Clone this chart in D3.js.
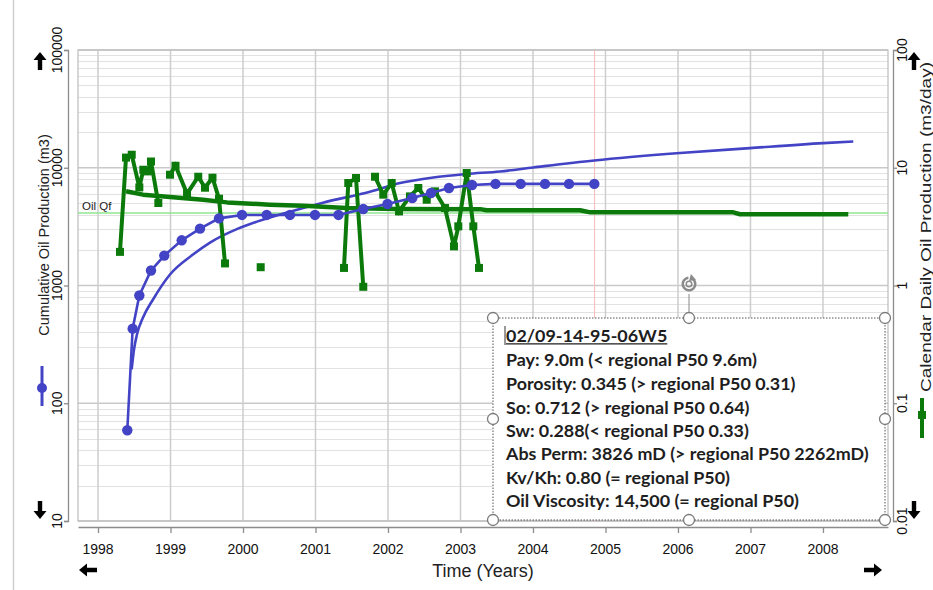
<!DOCTYPE html>
<html><head><meta charset="utf-8">
<script src="https://cdn.jsdelivr.net/npm/d3@7"></script>
<style>body{margin:0;background:#fff;} svg{display:block;font-family:"Liberation Sans",Arial,sans-serif;}</style>
</head><body><svg id="c" width="933" height="590"></svg>
<script>
// ---------- data ----------
const yearTicks = [1998,1999,2000,2001,2002,2003,2004,2005,2006,2007,2008];
const cumTicks = [10,100,1000,10000,100000];
const cumTickLabels = ["10","100","1000","10000","100000"];
const rateTicks = [0.01,0.1,1,10,100];
const rateTickLabels = ["0.01","0.1","1","10","100"];

// Actual cumulative oil production (m3)
const cumDates  = [1998.404,1998.478,1998.570,1998.731,1998.914,1999.154,1999.407,1999.669,1999.986,2000.327,2000.648,2000.993,2001.317,2001.659,2001.993,2002.335,2002.593,2002.841,2003.159,2003.483,2003.830,2004.166,2004.497,2004.846];
const cumValues = [59,430,823,1340,1795,2420,3040,3718,3974,3974,3974,3974,3974,4467,4923,5538,6105,6730,7135,7290,7290,7290,7290,7290];

// Forecast cumulative (m3)
const cumFcstDates  = [1998.464,1998.497,1998.538,1998.621,1998.759,1998.993,1999.310,1999.545,1999.931,2000.193,2000.648,2001.103,2001.752,2002.166,2002.625,2003.086,2003.545,2004.004,2004.846,2006.028,2006.993,2008.004,2008.418];
const cumFcstValues = [194,287,385,535,761,1240,1830,2313,3040,3486,4240,5050,6260,7415,8275,8855,9305,10060,11530,13330,14690,16190,16710];

// Actual calendar daily oil rate (m3/day); null = gap
const rateDates  = [1998.303,1998.386,1998.465,1998.570,1998.625,1998.686,1998.731,1998.832,null,
                    1998.993,1999.069,1999.228,1999.383,1999.476,1999.579,1999.669,1999.752,null,
                    2000.244,null,
                    2001.393,2001.452,2001.559,2001.659,null,
                    2001.821,2001.935,2002.051,2002.152,2002.303,2002.418,2002.534,2002.648,2002.786,2002.910,2002.970,2003.086,2003.177,2003.255];
const rateValues = [1.93,12.2,12.9,6.81,9.62,9.31,11.3,5.02,null,
                    8.73,10.4,6.02,8.39,6.77,8.23,5.46,1.54,null,
                    1.43,null,
                    1.41,7.42,8.18,0.975,null,
                    8.39,5.91,7.42,4.26,5.71,6.73,5.35,6.30,4.55,2.15,3.18,9.02,3.18,1.41];

// Forecast daily rate (m3/day)
const rateFcstDates  = [1998.386,1998.621,1998.993,1999.448,1999.779,2000.372,2000.828,2001.434,2002.124,2003.270,2003.360,2004.650,2004.790,2006.763,2006.855,2008.349];
const rateFcstValues = [6.32,5.91,5.65,5.35,5.08,4.86,4.76,4.55,4.47,4.45,4.35,4.35,4.18,4.18,4.03,4.03];

const oilQf = 4.13;
const oilQfLabel = "Oil Qf";
const cursorDate = 2004.85;

const leftTitle = "Cumulative Oil Production (m3)";
const rightTitle = "Calendar Daily Oil Production (m3/day)";
const xTitle = "Time (Years)";
const noteLines = [
  "02/09-14-95-06W5",
  "Pay: 9.0m (< regional P50 9.6m)",
  "Porosity: 0.345 (> regional P50 0.31)",
  "So: 0.712 (> regional P50 0.64)",
  "Sw: 0.288(< regional P50 0.33)",
  "Abs Perm: 3826 mD (> regional P50 2262mD)",
  "Kv/Kh: 0.80 (= regional P50)",
  "Oil Viscosity: 14,500 (= regional P50)"
];

// ---------- layout ----------
const svg = d3.select("#c");
const P = {l:78, t:50, r:888, b:521};
const x = d3.scaleLinear().domain([1997.724, 2008.897]).range([P.l, P.r]);
const yL = d3.scaleLog().domain([10, 100000]).range([P.b, P.t]);
const yR = d3.scaleLog().domain([0.01, 100]).range([P.b, P.t]);

const BLUE = "#4343c6", GREEN = "#0b7a0b", AX = "#8c8c8c";

// outer frame line
svg.append("line").attr("x1",13.5).attr("x2",13.5).attr("y1",0).attr("y2",590).attr("stroke","#cfcfcf").attr("stroke-width",1.5);

// grid
const g = svg.append("g");
const minor = [];
[10,100,1000,10000].forEach(d=>{ for(let k=2;k<=9;k++) minor.push(d*k); });
g.selectAll(".mn").data(minor).join("line")
  .attr("x1",P.l).attr("x2",P.r).attr("y1",d=>Math.round(yL(d))+0.5).attr("y2",d=>Math.round(yL(d))+0.5)
  .attr("stroke","#e2e2e2").attr("stroke-width",1.2);
g.selectAll(".mj").data(cumTicks).join("line")
  .attr("x1",P.l).attr("x2",P.r).attr("y1",d=>yL(d)).attr("y2",d=>yL(d))
  .attr("stroke","#c9c9c9").attr("stroke-width",1.5);
g.selectAll(".vx").data(yearTicks).join("line")
  .attr("x1",d=>x(d)).attr("x2",d=>x(d)).attr("y1",P.t).attr("y2",P.b)
  .attr("stroke","#cdcdcd").attr("stroke-width",1.5);
g.append("rect").attr("x",P.l).attr("y",P.t).attr("width",P.r-P.l).attr("height",P.b-P.t)
  .attr("fill","none").attr("stroke","#bdbdbd").attr("stroke-width",1.2);

// cursor line
g.append("line").attr("x1",x(cursorDate)).attr("x2",x(cursorDate)).attr("y1",P.t).attr("y2",P.b)
  .attr("stroke","#f6b8b8").attr("stroke-width",1);

// Oil Qf
g.append("line").attr("x1",P.l).attr("x2",P.r).attr("y1",yR(oilQf)).attr("y2",yR(oilQf))
  .attr("stroke","#8fe88f").attr("stroke-width",1.5);
g.append("text").attr("x",P.l+4).attr("y",yR(oilQf)-3).attr("font-size",11.5).attr("fill","#222").text(oilQfLabel);

// axes
const axL = svg.append("g").attr("transform",`translate(68,0)`)
  .call(d3.axisLeft(yL).tickValues(cumTicks).tickSize(4).tickSizeOuter(4).tickFormat(""));
const axR = svg.append("g").attr("transform",`translate(893,0)`)
  .call(d3.axisRight(yR).tickValues(rateTicks).tickSize(4).tickSizeOuter(4).tickFormat(""));
const axB = svg.append("g").attr("transform",`translate(0,527)`)
  .call(d3.axisBottom(x).tickValues(yearTicks).tickSize(6).tickSizeOuter(0).tickFormat(""));
[axL,axR,axB].forEach(a=>{ a.selectAll("path,line").attr("stroke",AX).attr("stroke-width",1.3); });

svg.selectAll(".lt").data(cumTicks).join("text")
  .attr("transform",d=>`translate(57,${yL(d)}) rotate(-90)`)
  .attr("text-anchor","middle").attr("dominant-baseline","central")
  .attr("font-size",14).attr("fill","#111").text((d,i)=>cumTickLabels[i]);
svg.selectAll(".rt").data(rateTicks).join("text")
  .attr("transform",d=>`translate(902,${yR(d)}) rotate(-90)`)
  .attr("text-anchor","middle").attr("dominant-baseline","central")
  .attr("font-size",14).attr("fill","#111").text((d,i)=>rateTickLabels[i]);
svg.selectAll(".bt").data(yearTicks).join("text")
  .attr("x",d=>x(d)).attr("y",549).attr("text-anchor","middle").attr("dominant-baseline","central")
  .attr("font-size",14).attr("fill","#111").text(d=>d);

// titles
svg.append("text").attr("transform","translate(44,235) rotate(-90)").attr("text-anchor","middle")
  .attr("dominant-baseline","central").attr("font-size",14.5).attr("fill","#222").text(leftTitle);
svg.append("text").attr("transform","translate(925,227) rotate(-90)").attr("text-anchor","middle")
  .attr("dominant-baseline","central").attr("font-size",15.5).attr("fill","#222")
  .attr("textLength",330).attr("lengthAdjust","spacingAndGlyphs").text(rightTitle);
svg.append("text").attr("x",483).attr("y",571).attr("text-anchor","middle").attr("dominant-baseline","central")
  .attr("font-size",18).attr("fill","#222").text(xTitle);

// legend symbols
svg.append("line").attr("x1",42).attr("x2",42).attr("y1",366).attr("y2",406).attr("stroke",BLUE).attr("stroke-width",3);
svg.append("circle").attr("cx",42).attr("cy",388).attr("r",5).attr("fill",BLUE);
svg.append("line").attr("x1",922).attr("x2",922).attr("y1",398).attr("y2",438).attr("stroke",GREEN).attr("stroke-width",4);
svg.append("rect").attr("x",918).attr("y",411).attr("width",8).attr("height",8).attr("fill",GREEN);

// arrows
function arrow(cx,cy,rot){
  svg.append("path").attr("transform",`translate(${cx},${cy}) rotate(${rot})`)
    .attr("d","M0,-9 L6.5,-1 L2.2,-1 L2.2,9 L-2.2,9 L-2.2,-1 L-6.5,-1 Z").attr("fill","#000");
}
arrow(40,61,0); arrow(40,510,180); arrow(914,61,0); arrow(914,510,180);
arrow(88,570,-90); arrow(873,570,90);

// series
const plotG = svg.append("g");
const cumFc = cumFcstDates.map((d,i)=>({d,v:cumFcstValues[i]}));
plotG.append("path").datum(cumFc).attr("fill","none").attr("stroke",BLUE).attr("stroke-width",2.6)
  .attr("d",d3.line().x(p=>x(p.d)).y(p=>yL(p.v)).curve(d3.curveMonotoneX));
const rateFc = rateFcstDates.map((d,i)=>({d,v:rateFcstValues[i]}));
plotG.append("path").datum(rateFc).attr("fill","none").attr("stroke",GREEN).attr("stroke-width",4.5)
  .attr("stroke-linejoin","round")
  .attr("d",d3.line().x(p=>x(p.d)).y(p=>yR(p.v)));

const rate = rateDates.map((d,i)=>({d,v:rateValues[i]}));
plotG.append("path").datum(rate).attr("fill","none").attr("stroke",GREEN).attr("stroke-width",4)
  .attr("d",d3.line().defined(p=>p.v!=null).x(p=>x(p.d)).y(p=>yR(p.v)));
plotG.selectAll(".sq").data(rate.filter(p=>p.v!=null)).join("rect")
  .attr("x",p=>x(p.d)-4).attr("y",p=>yR(p.v)-4).attr("width",8).attr("height",8).attr("fill",GREEN);

const cum = cumDates.map((d,i)=>({d,v:cumValues[i]}));
plotG.append("path").datum(cum).attr("fill","none").attr("stroke",BLUE).attr("stroke-width",2.6)
  .attr("d",d3.line().x(p=>x(p.d)).y(p=>yL(p.v)));
plotG.selectAll(".dt").data(cum).join("circle")
  .attr("cx",p=>x(p.d)).attr("cy",p=>yL(p.v)).attr("r",5.2).attr("fill",BLUE);

// note box
const box = {x1:493, y1:318, x2:885, y2:520};
const nb = svg.append("g");
nb.append("rect").attr("x",box.x1).attr("y",box.y1).attr("width",box.x2-box.x1).attr("height",box.y2-box.y1)
  .attr("fill","#fff").attr("stroke","#555").attr("stroke-width",1).attr("stroke-dasharray","1.5,1.5");
const lineY = [335,359.3,383.3,406.7,430,453.3,477.3,500];
const texts = nb.selectAll(".nt").data(noteLines).join("text")
  .attr("x",506).attr("y",(d,i)=>lineY[i]).attr("dominant-baseline","central")
  .attr("font-family","Lato, 'Open Sans', sans-serif").attr("font-weight",700)
  .attr("font-size",15).attr("fill","#1e1e1e").text(d=>d);
let maxW = 0; texts.each(function(){ maxW = Math.max(maxW, this.getComputedTextLength()); });
const fs = 15*363/maxW;
texts.attr("font-size",fs);
const w0 = texts.nodes()[0].getComputedTextLength();
nb.append("line").attr("x1",506).attr("x2",506+w0).attr("y1",lineY[0]+fs*0.5).attr("y2",lineY[0]+fs*0.5)
  .attr("stroke","#1e1e1e").attr("stroke-width",1.2);
nb.append("line").attr("x1",505).attr("x2",505).attr("y1",lineY[0]-9).attr("y2",lineY[0]+10)
  .attr("stroke","#333").attr("stroke-width",1);

// handles
const hx = [box.x1,(box.x1+box.x2)/2,box.x2], hy=[box.y1,(box.y1+box.y2)/2,box.y2];
nb.append("line").attr("x1",hx[1]).attr("x2",hx[1]).attr("y1",box.y1-24).attr("y2",box.y1).attr("stroke","#888").attr("stroke-width",1);
const handles=[];
hx.forEach((a,i)=>hy.forEach((b,j)=>{ if(!(i===1&&j===1)) handles.push([a,b]); }));
nb.selectAll(".h").data(handles).join("circle").attr("cx",d=>d[0]).attr("cy",d=>d[1]).attr("r",5.5)
  .attr("fill","#fff").attr("stroke","#7a7a7a").attr("stroke-width",1.3);
const rc = [hx[1], 284];
nb.append("path").attr("transform",`translate(${rc[0]},${rc[1]})`)
  .attr("d",d3.arc().innerRadius(5).outerRadius(7.5).startAngle(0.5).endAngle(2*Math.PI-0.1)())
  .attr("fill","#8a8a8a");
nb.append("path").attr("transform",`translate(${rc[0]},${rc[1]})`)
  .attr("d","M2,-10 L7,-4 L0,-3 Z").attr("fill","#8a8a8a");
nb.append("circle").attr("cx",rc[0]).attr("cy",rc[1]).attr("r",2.8).attr("fill","none").attr("stroke","#8a8a8a").attr("stroke-width",1.5);
</script>
</body></html>
